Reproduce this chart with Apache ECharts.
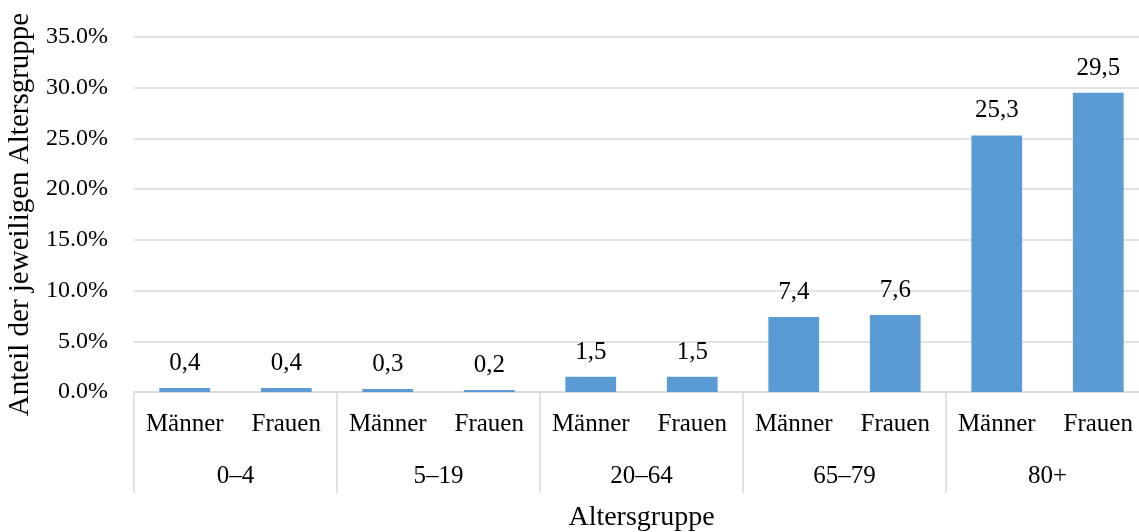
<!DOCTYPE html>
<html>
<head>
<meta charset="utf-8">
<script src="https://cdn.jsdelivr.net/npm/echarts@6/dist/echarts.min.js"></script>
<style>
  html, body { margin: 0; padding: 0; background: #fff; }
  #chart { width: 1139px; height: 532px; }
</style>
</head>
<body>
<div id="chart"></div>
<script>
// categories and values
const sexLabels = ['Männer', 'Frauen', 'Männer', 'Frauen', 'Männer', 'Frauen', 'Männer', 'Frauen', 'Männer', 'Frauen'];
const ageGroups = ['0–4', '5–19', '20–64', '65–79', '80+'];
const shares = [0.4, 0.4, 0.3, 0.2, 1.5, 1.5, 7.4, 7.6, 25.3, 29.5];

const fontFamily = '"Liberation Serif", "DejaVu Serif", serif';
const gridColor = '#d9d9d9';

const chart = echarts.init(document.getElementById('chart'));

chart.setOption({
  animation: false,
  textStyle: { fontFamily: fontFamily, color: '#000' },
  grid: {
    left: 134,
    top: 37,
    width: 1015,
    height: 355,
    containLabel: false,
    outerBoundsMode: 'none'
  },
  xAxis: [
    {
      type: 'category',
      data: sexLabels,
      axisLine: { show: true, lineStyle: { color: gridColor, width: 1.5 } },
      axisTick: { show: false },
      axisLabel: { color: '#000', fontSize: 25, fontFamily: fontFamily, margin: 20, interval: 0 }
    },
    {
      type: 'category',
      data: ageGroups,
      position: 'bottom',
      axisLine: { show: false },
      axisTick: { show: true, length: 101, lineStyle: { color: gridColor, width: 1.5 } },
      axisLabel: { color: '#000', fontSize: 25, fontFamily: fontFamily, margin: 72, interval: 0 },
      name: 'Altersgruppe',
      nameLocation: 'middle',
      nameGap: 112,
      nameTextStyle: { color: '#000', fontSize: 28, fontFamily: fontFamily }
    }
  ],
  yAxis: {
    type: 'value',
    min: 0,
    max: 35,
    interval: 5,
    axisLine: { show: false },
    axisTick: { show: false },
    splitLine: { lineStyle: { color: gridColor, width: 1.5 } },
    axisLabel: {
      color: '#000',
      fontSize: 24,
      fontFamily: fontFamily,
      margin: 26,
      formatter: v => v.toFixed(1) + '%'
    },
    name: 'Anteil der jeweiligen Altersgruppe',
    nameLocation: 'middle',
    nameGap: 95,
    nameTextStyle: { color: '#000', fontSize: 29, fontFamily: fontFamily }
  },
  series: [
    {
      type: 'bar',
      data: shares,
      barWidth: '50%',
      itemStyle: { color: '#5b9bd5' },
      label: {
        show: true,
        position: 'top',
        distance: 12,
        color: '#000',
        fontSize: 25,
        fontFamily: fontFamily,
        formatter: p => p.value.toFixed(1).replace('.', ',')
      }
    }
  ]
});
</script>
</body>
</html>
